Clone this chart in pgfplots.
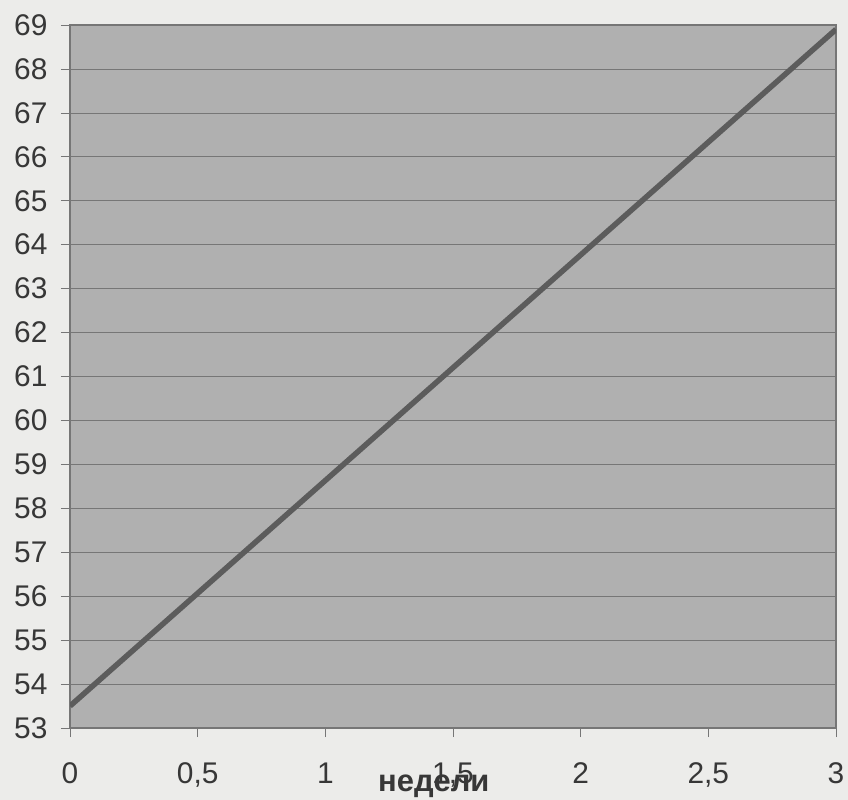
\documentclass[border=0pt]{standalone}
\usepackage{pgfplots}
\pgfplotsset{compat=1.18}
\usepackage{fontspec}
\setmainfont{Liberation Sans}
\definecolor{pagebg}{RGB}{236,236,234}
\definecolor{plotbg}{RGB}{176,176,176}
\definecolor{gridc}{RGB}{118,118,118}
\definecolor{linec}{RGB}{92,92,92}
\definecolor{textc}{RGB}{55,55,55}
\begin{document}
\begin{tikzpicture}
\fill[pagebg] (-70bp,-72bp) rectangle (778bp,728bp);
\path[use as bounding box] (-70bp,-72bp) rectangle (778bp,728bp);
\begin{axis}[
    at={(0,0)}, anchor=south west,
    scale only axis,
    width=766bp, height=703bp,
    xmin=0, xmax=3, ymin=53, ymax=69,
    xtick={0,0.5,1,1.5,2,2.5,3},
    ytick={53,54,...,69},
    xtick pos=bottom, ytick pos=left,
    axis background/.style={fill=plotbg},
    axis line style={draw=gridc, line width=1.2pt},
    ymajorgrids,
    grid style={draw=gridc, line width=0.7pt},
    tick align=outside,
    major tick length=9bp,
    tick style={draw=gridc, line width=0.7pt},
    /pgf/number format/assume math mode=true,
    /pgf/number format/use comma,
    /pgf/number format/fixed,
    ticklabel style={font=\fontsize{30}{34}\selectfont, text=textc},
    xticklabel style={yshift=-22bp},
    yticklabel style={xshift=-10bp},
    xlabel={\textbf{недели}},
    xlabel style={font=\fontsize{31}{34}\selectfont, text=textc,
      at={(axis description cs:0.475,0)}, anchor=north, yshift=-43bp},
  ]
\addplot[linec, line width=5.5bp, no marks] coordinates {(0,53.5) (3,68.9)};
\end{axis}
\end{tikzpicture}
\end{document}
